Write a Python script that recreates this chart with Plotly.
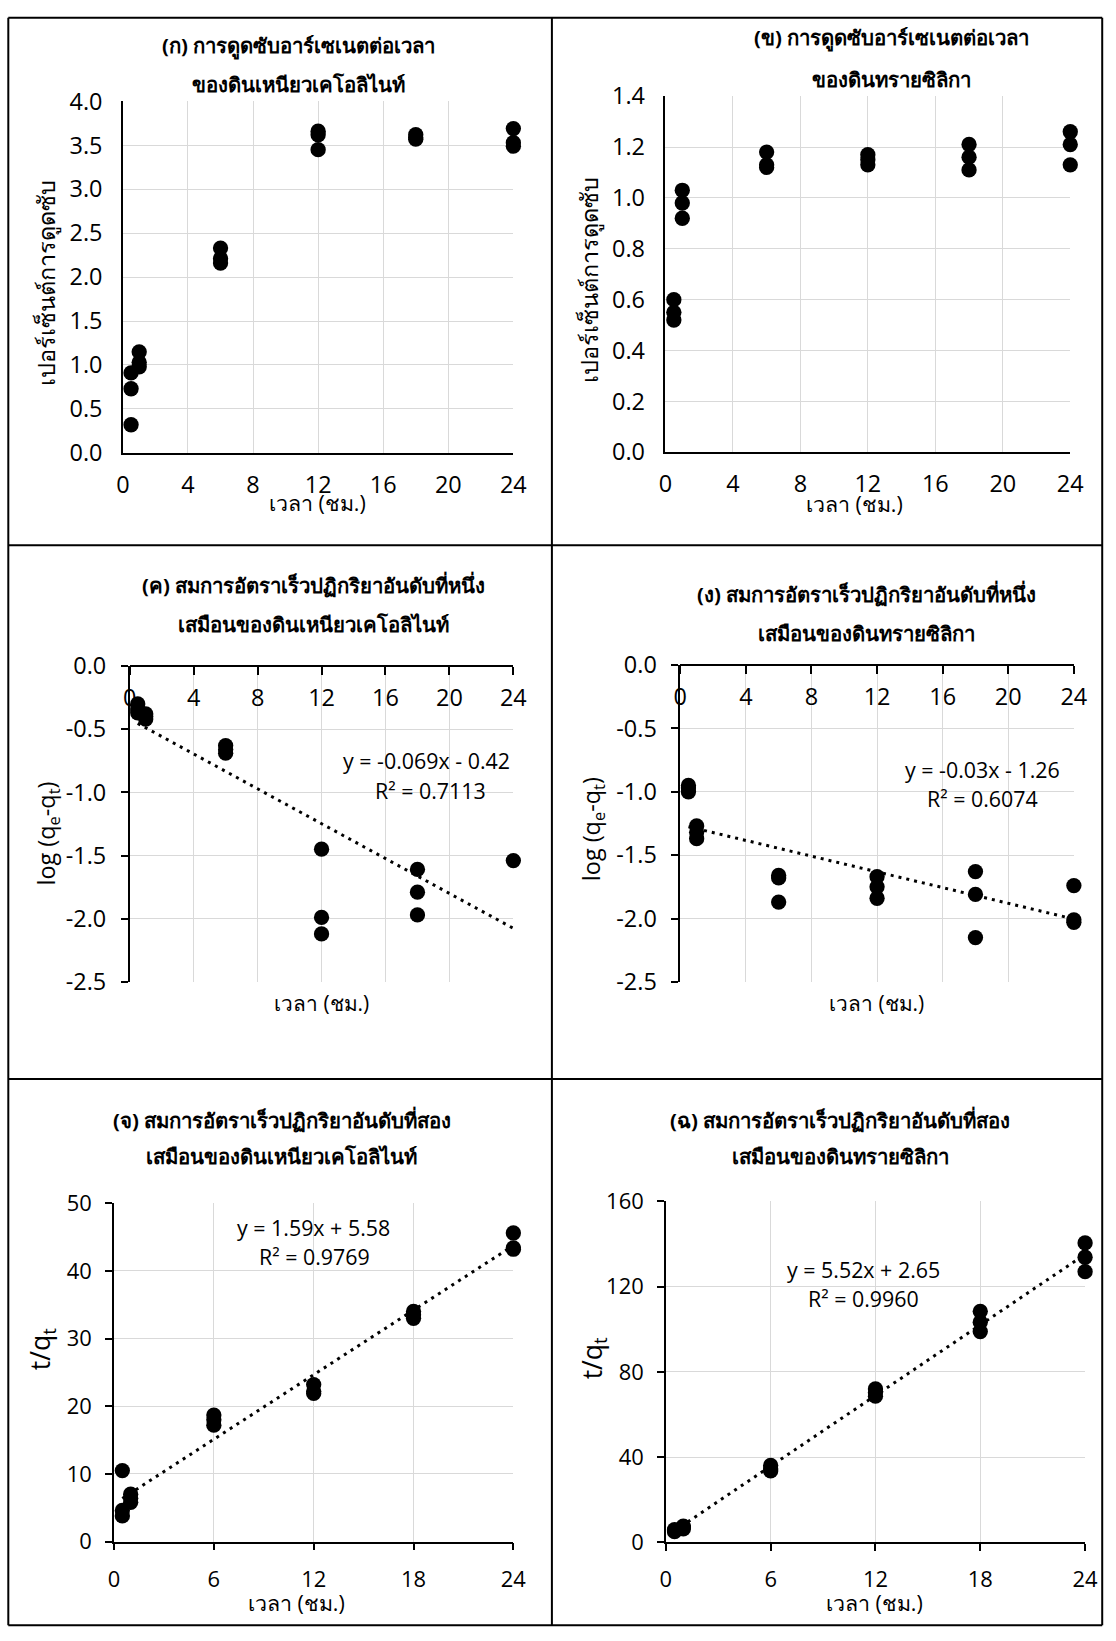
import plotly.graph_objects as go

W, H = 1116, 1641
FONT = "'Open Sans', 'Noto Sans', sans-serif"

# The photographed picture shows the page scaled by S and offset by (OX, OY);
# all positions below are given in picture pixels and mapped back to the page.
S, OX, OY = 0.981, 6.7, 16.4
K = 1 / S

# ---------------- data ----------------
T3 = [0.5, 0.5, 0.5, 1, 1, 1, 6, 6, 6, 12, 12, 12, 18, 18, 18, 24, 24, 24]

# (a) % adsorption, kaolinite clay
KAO_PCT = [0.91, 0.73, 0.32, 1.15, 1.03, 0.98, 2.33, 2.21, 2.16,
           3.66, 3.62, 3.45, 3.62, 3.59, 3.57, 3.69, 3.53, 3.49]
# (b) % adsorption, silica sand
SIL_PCT = [0.60, 0.55, 0.52, 1.03, 0.98, 0.92, 1.18, 1.13, 1.12,
           1.17, 1.15, 1.13, 1.21, 1.16, 1.11, 1.26, 1.21, 1.13]
# (c) pseudo-first-order, kaolinite
KAO_PFO_T = [0.5, 0.5, 0.5, 1, 1, 1, 6, 6, 6, 12, 12, 12, 18, 18, 18, 24]
KAO_PFO = [-0.30, -0.34, -0.37, -0.38, -0.40, -0.42, -0.63, -0.66, -0.69,
           -1.45, -1.99, -2.12, -1.61, -1.79, -1.97, -1.54]
# (d) pseudo-first-order, silica sand
SIL_PFO = [-0.95, -0.97, -1.00, -1.27, -1.32, -1.37, -1.66, -1.68, -1.87,
           -1.67, -1.75, -1.84, -1.63, -1.81, -2.15, -1.74, -2.01, -2.03]
# (e) pseudo-second-order, kaolinite
KAO_PSO = [10.5, 4.6, 3.8, 7.0, 6.4, 5.8, 18.7, 18.0, 17.2,
           23.2, 22.2, 21.9, 34.0, 33.5, 33.0, 45.6, 43.4, 43.2]
# (f) pseudo-second-order, silica sand
SIL_PSO = [5.0, 5.5, 6.0, 6.3, 7.0, 7.6, 36.1, 34.4, 33.5,
           72.0, 70.3, 68.6, 108.4, 103.3, 98.9, 140.5, 133.8, 127.0]

# trendline coefficients (slope, intercept)
FIT_C = (-0.069, -0.42)
FIT_D = (-0.031, -1.26)
FIT_E = (1.59, 5.58)
FIT_F = (5.52, 2.65)

EQ_C = ["y = -0.069x - 0.42", "R² = 0.7113"]
EQ_D = ["y = -0.03x - 1.26", "R² = 0.6074"]
EQ_E = ["y = 1.59x + 5.58", "R² = 0.9769"]
EQ_F = ["y = 5.52x + 2.65", "R² = 0.9960"]

TITLES = [
    ["(ก) การดูดซับอาร์เซเนตต่อเวลา", "ของดินเหนียวเคโอลิไนท์"],
    ["(ข) การดูดซับอาร์เซเนตต่อเวลา", "ของดินทรายซิลิกา"],
    ["(ค) สมการอัตราเร็วปฏิกริยาอันดับที่หนึ่ง", "เสมือนของดินเหนียวเคโอลิไนท์"],
    ["(ง) สมการอัตราเร็วปฏิกริยาอันดับที่หนึ่ง", "เสมือนของดินทรายซิลิกา"],
    ["(จ) สมการอัตราเร็วปฏิกริยาอันดับที่สอง", "เสมือนของดินเหนียวเคโอลิไนท์"],
    ["(ฉ) สมการอัตราเร็วปฏิกริยาอันดับที่สอง", "เสมือนของดินทรายซิลิกา"],
]
X_TITLE = "เวลา (ชม.)"
Y_TITLES = ["เปอร์เซ็นต์การดูดซับ", "เปอร์เซ็นต์การดูดซับ",
            "log (q<sub>e</sub>-q<sub>t</sub>)", "log (q<sub>e</sub>-q<sub>t</sub>)",
            "t/q<sub>t</sub>", "t/q<sub>t</sub>"]

X_TICKS_4 = [0, 4, 8, 12, 16, 20, 24]
X_TICKS_6 = [0, 6, 12, 18, 24]
Y_TICKS_A = [0, 0.5, 1.0, 1.5, 2.0, 2.5, 3.0, 3.5, 4.0]
Y_TICKS_B = [0, 0.2, 0.4, 0.6, 0.8, 1.0, 1.2, 1.4]
Y_TICKS_CD = [0, -0.5, -1.0, -1.5, -2.0, -2.5]
Y_TICKS_E = [0, 10, 20, 30, 40, 50]
Y_TICKS_F = [0, 40, 80, 120, 160]

# ---------------- layout helpers (picture pixels -> paper) ----------------
def px_x(x):
    p = min(max((x - OX) / S, 0.8), W - 0.8)
    return p / W

def px_y(y):
    p = min(max((y - OY) / S, 0.8), H - 0.8)
    return 1 - p / H

fig = go.Figure()

# plot-area boxes in picture pixels: (left, right, top, bottom)
BOXES = [
    (122.5, 512.5, 100.8, 452.5),
    (664.4, 1068.8, 95.6, 451.9),
    (129.3, 512.5, 665.7, 981.8),
    (679.2, 1072.4, 664.7, 981.8),
    (113.6, 512.5, 1203.2, 1541.8),
    (664.8, 1083.6, 1201.4, 1542.5),
]

GRID = "#d9d9d9"


def add_axes(i, xt, yt, ydec, yrange, top=False, ticks_xy=("", ""), tickfs=23, ystand=14):
    l, r, t, b = BOXES[i]
    n = "" if i == 0 else str(i + 1)
    xa = dict(
        domain=[px_x(l), px_x(r)], range=[0, 24], anchor="y" + n,
        tickmode="array", tickvals=xt, ticktext=[str(v) for v in xt],
        showgrid=True, gridcolor=GRID, gridwidth=1, zeroline=False,
        showline=True, linecolor="black", linewidth=1.5,
        ticks=ticks_xy[0], ticklen=7, tickcolor="black", tickwidth=1.5,
        tickfont=dict(family=FONT, size=tickfs * K, color="black"),
        ticklabelstandoff=10, fixedrange=True,
    )
    if top:
        # axis crosses at y = 0 (top of the plot), labels hang below it
        xa.update(anchor="free", position=px_y(t), side="bottom",
                  ticks="outside", ticklen=8, ticklabelstandoff=3)
    ya = dict(
        domain=[px_y(b), px_y(t)], range=yrange, anchor="x" + n,
        tickmode="array", tickvals=yt, ticktext=[f"{v:.{ydec}f}" for v in yt],
        showgrid=True, gridcolor=GRID, gridwidth=1, zeroline=False,
        showline=True, linecolor="black", linewidth=1.5,
        ticks=ticks_xy[1], ticklen=7, tickcolor="black", tickwidth=1.5,
        tickfont=dict(family=FONT, size=tickfs * K, color="black"),
        ticklabelstandoff=ystand, fixedrange=True,
    )
    fig.layout["xaxis" + n] = xa
    fig.layout["yaxis" + n] = ya
    return "x" + n, "y" + n


MARK = dict(color="black", size=15 * K)


def scatter(xs, ys, ax):
    fig.add_trace(go.Scatter(x=xs, y=ys, mode="markers", marker=MARK,
                             xaxis=ax[0], yaxis=ax[1], cliponaxis=False,
                             showlegend=False, hoverinfo="skip"))


def trend(xs, fit, ax):
    x0, x1 = min(xs), max(xs)
    m, c = fit
    fig.add_trace(go.Scatter(x=[x0, x1], y=[m * x0 + c, m * x1 + c], mode="lines",
                             line=dict(color="black", width=3, dash="3px,5px"),
                             xaxis=ax[0], yaxis=ax[1], cliponaxis=False,
                             showlegend=False, hoverinfo="skip"))


ax = add_axes(0, X_TICKS_4, Y_TICKS_A, 1, [0, 4])
scatter(T3, KAO_PCT, ax)
ax = add_axes(1, X_TICKS_4, Y_TICKS_B, 1, [0, 1.4])
scatter(T3, SIL_PCT, ax)
ax = add_axes(2, X_TICKS_4, Y_TICKS_CD, 1, [-2.5, 0], top=True,
              ticks_xy=("outside", "outside"), ystand=10)
trend(KAO_PFO_T, FIT_C, ax)
scatter(KAO_PFO_T, KAO_PFO, ax)
ax = add_axes(3, X_TICKS_4, Y_TICKS_CD, 1, [-2.5, 0], top=True,
              ticks_xy=("outside", "outside"), ystand=10)
trend(T3, FIT_D, ax)
scatter(T3, SIL_PFO, ax)
ax = add_axes(4, X_TICKS_6, Y_TICKS_E, 0, [0, 50], ticks_xy=("outside", "outside"),
              tickfs=21.5, ystand=9)
trend(T3, FIT_E, ax)
scatter(T3, KAO_PSO, ax)
ax = add_axes(5, X_TICKS_6, Y_TICKS_F, 0, [0, 160], ticks_xy=("outside", "outside"),
              tickfs=21.5, ystand=9)
trend(T3, FIT_F, ax)
scatter(T3, SIL_PSO, ax)

ann = []


def text(x, y, s, size, bold=False, angle=0, xanchor="center"):
    ann.append(dict(x=px_x(x), y=px_y(y), xref="paper", yref="paper",
                    text=("<b>%s</b>" % s) if bold else s,
                    showarrow=False, font=dict(family=FONT, size=size * K, color="black"),
                    xanchor=xanchor, yanchor="middle", textangle=angle))


# titles (center x, line1 y, line2 y)
TITLE_POS = [(298, 45, 83), (890, 37, 78), (313, 585, 624), (865, 594, 633),
             (281, 1120, 1156), (839, 1120, 1156)]
for (cx, y1, y2), (l1, l2) in zip(TITLE_POS, TITLES):
    text(cx, y1, l1, 20, bold=True)
    text(cx, y2, l2, 20, bold=True)

# x titles
XT_POS = [(317, 502, 21), (853, 503, 21), (321, 1003, 20.5), (875, 1003, 20.5),
          (296, 1603, 21), (873, 1603, 21)]
for cx, cy, fs in XT_POS:
    text(cx, cy, X_TITLE, fs)

# y titles
YT_POS = [(46, 282, 23), (589, 280, 23), (47, 833, 23), (591, 829, 23),
          (42, 1349, 26), (592.5, 1358, 26)]
for (cx, cy, fs), s in zip(YT_POS, Y_TITLES):
    text(cx, cy, s, fs, angle=-90)

# equations
text(511, 760, EQ_C[0], 21, xanchor="right")
text(430, 790, EQ_C[1], 21)
text(981, 769, EQ_D[0], 21)
text(981, 798, EQ_D[1], 21)
text(313, 1228, EQ_E[0], 21)
text(314, 1257, EQ_E[1], 21)
text(862, 1270, EQ_F[0], 21)
text(862, 1299, EQ_F[1], 21)

# panel frame lines
shapes = []


def line(x0, y0, x1, y1):
    shapes.append(dict(type="line", xref="paper", yref="paper", x0=px_x(x0), y0=px_y(y0),
                       x1=px_x(x1), y1=px_y(y1), line=dict(color="black", width=2)))


line(8, 7, 1109, 7)
line(8, 7, 8, 1640)
line(1109, 7, 1109, 1640)
line(8, 1640, 1109, 1640)
line(551, 7, 551, 1640)
line(8, 545, 1109, 545)
line(8, 1079, 1109, 1079)

fig.update_layout(
    width=W, height=H, margin=dict(l=0, r=0, t=0, b=0),
    paper_bgcolor="white", plot_bgcolor="white",
    annotations=ann, shapes=shapes, showlegend=False,
    font=dict(family=FONT, color="black"),
)

fig.write_html("out.html", config={"displayModeBar": False},
               post_script="document.body.style.margin='0px';document.body.style.padding='0px';")
